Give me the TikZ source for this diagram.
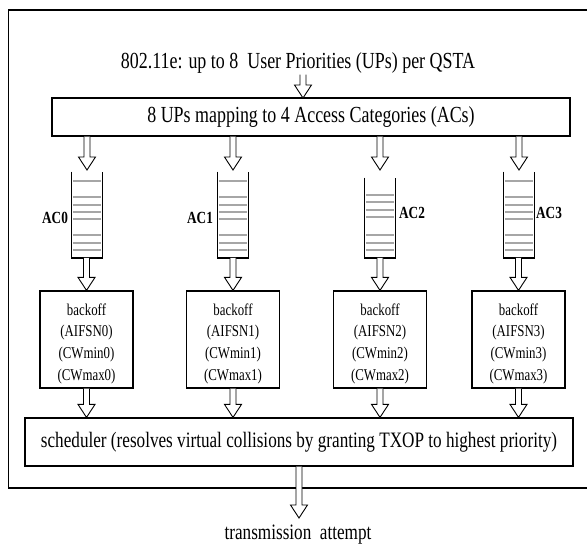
\documentclass[tikz,border=0pt]{standalone}
\usepackage{fontspec}
\setmainfont{Liberation Serif}[FakeStretch=0.78]
\usetikzlibrary{calc}
\tikzset{
  box/.style={draw, line width=1.2pt, inner sep=0pt, align=center},
  big/.style={font=\fontsize{23}{25}\selectfont},
  bigger/.style={font=\fontsize{22}{24}\selectfont},
  txt/.style={inner sep=1pt},
  harr/.style={draw, line width=0.9pt, line join=miter, fill=white},
  qbox/.style={minimum width=31pt, inner sep=0pt, anchor=south},
  acl/.style={font=\bfseries\fontsize{17}{19}\selectfont, inner sep=0pt},
  qline/.style={draw=black!35, line width=1.3pt},
  qwall/.style={draw, line width=1.2pt},
  boff/.style={box, minimum width=93pt, minimum height=97pt},
  btxt/.style={inner sep=0pt, align=center, font=\fontsize{16.5}{21.7}\selectfont},
}
\newcommand\harrow[2]{\path[harr] let \p1=(#1), \p2=(#2) in
  (\x2-3pt,\y1) -- (\x2-3pt,\y2+13pt) -- (\x2-8.5pt,\y2+13pt) -- (\x2,\y2)
  -- (\x2+8.5pt,\y2+13pt) -- (\x2+3pt,\y2+13pt) -- (\x2+3pt,\y1);}
\newcommand\queuelines[2]{%
  \draw[qwall] (#1.north west) -- (#1.south west) -- (#1.south east) -- (#1.north east);
  \foreach \d in {#2}
    \draw[qline] ([xshift=1.5pt,yshift=\d pt]#1.south west) -- ([xshift=-1.5pt,yshift=\d pt]#1.south east);}
\begin{document}
\begin{tikzpicture}[x=1pt,y=1pt]
\clip (0,0) rectangle (587,544);
\fill[white] (0,0) rectangle (587,544);
% outer frame
\draw[line width=1.2pt] (8.5,56) rectangle (600,534);
% title and mapping box
\node[txt, big] (title) at (298,481) {802.11e: up to 8\ \ User Priorities (UPs) per QSTA};
\node[box, big, minimum width=518pt, minimum height=38pt] (map) at (311,427) {8 UPs mapping to 4 Access Categories (ACs)};
\coordinate (ttip) at (303,446);
% queues
\node[qbox, minimum height=86pt] (q0) at (87,286) {};
\node[qbox, minimum height=86pt] (q1) at (233,286) {};
\node[qbox, minimum height=80pt] (q2) at (380,286) {};
\node[qbox, minimum height=86pt] (q3) at (519,286) {};
\queuelines{q0}{77,61,53,46,39,23,15,8}
\queuelines{q1}{77,61,53,46,39,23,15,8}
\queuelines{q2}{63,56,48,41,23,15,8}
\queuelines{q3}{77,61,53,46,39,23,15,8}
\node[acl] (l0) at (55,326) {AC0};
\node[acl] (l1) at (200,326) {AC1};
\node[acl] (l2) at (412,331) {AC2};
\node[acl] (l3) at (549,331) {AC3};
% arrow tips above the queues
\coordinate (t0) at (87,374);
\coordinate (t1) at (233,374);
\coordinate (t2) at (380,374);
\coordinate (t3) at (519,374);
% backoff boxes
\node[boff] (b0) at (86.5,204.5) {};
\node[boff] (b1) at (233,204.5) {};
\node[boff] (b2) at (380,204.5) {};
\node[boff] (b3) at (518.5,204.5) {};
\node[btxt] (bt0) at ([yshift=-4pt]b0.center) {backoff\\(AIFSN0)\\(CWmin0)\\(CWmax0)};
\node[btxt] (bt1) at ([yshift=-4pt]b1.center) {backoff\\(AIFSN1)\\(CWmin1)\\(CWmax1)};
\node[btxt] (bt2) at ([yshift=-4pt]b2.center) {backoff\\(AIFSN2)\\(CWmin2)\\(CWmax2)};
\node[btxt] (bt3) at ([yshift=-4pt]b3.center) {backoff\\(AIFSN3)\\(CWmin3)\\(CWmax3)};
% scheduler
\node[box, bigger, minimum width=548pt, minimum height=48pt] (sched) at (299,102) {scheduler (resolves virtual collisions by granting TXOP to highest priority)};
\node[txt, bigger] (tx) at (298,9) {transmission\ \ attempt};
\coordinate (txtip) at (299,26);
% arrows
\harrow{ttip |- title.south}{ttip}
\harrow{t0 |- map.south}{t0}
\harrow{t1 |- map.south}{t1}
\harrow{t2 |- map.south}{t2}
\harrow{t3 |- map.south}{t3}
\harrow{q0.south}{b0.north}
\harrow{q1.south}{b1.north}
\harrow{q2.south}{b2.north}
\harrow{q3.south}{b3.north}
\harrow{b0.south}{b0.south |- sched.north}
\harrow{b1.south}{b1.south |- sched.north}
\harrow{b2.south}{b2.south |- sched.north}
\harrow{b3.south}{b3.south |- sched.north}
\harrow{sched.south}{txtip}
\end{tikzpicture}
\end{document}
